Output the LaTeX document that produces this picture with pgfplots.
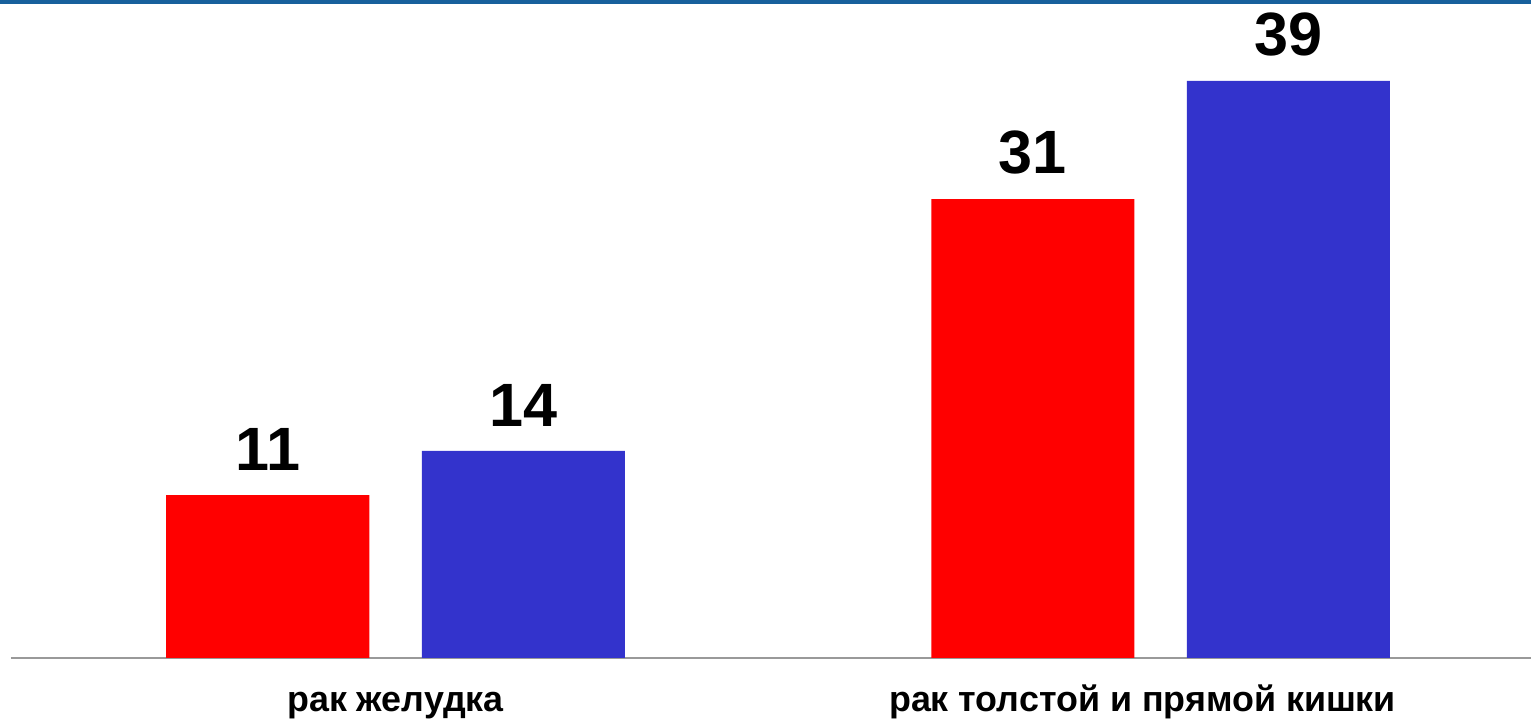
\documentclass[border=0pt]{standalone}
\usepackage{pgfplots}
\pgfplotsset{compat=1.18}
\usepackage{fontspec}
\setmainfont{Liberation Sans}

\definecolor{barred}{RGB}{255,0,0}
\definecolor{barblue}{RGB}{51,51,204}
\definecolor{topline}{RGB}{24,96,156}

\begin{document}
\begin{tikzpicture}
\useasboundingbox (0,0) rectangle (153.1mm,72mm);
\begin{axis}[
    at={(1.1mm,6.2mm)}, anchor=south west,
    scale only axis,
    width=152mm, height=65.8mm,
    xmin=-0.5026, xmax=1.4843,
    ymin=0, ymax=44.46,
    ybar, bar width=20.3mm,
    axis x line=bottom, axis y line=none,
    axis line style={-, draw=gray!80},
    xtick={0,0.9765},
    xticklabels={рак желудка, рак толстой и прямой кишки},
    major tick length=0pt,
    xticklabel style={anchor=base, yshift=-5.4mm, font=\fontsize{10.2}{12}\selectfont\bfseries},
    nodes near coords,
    nodes near coords style={anchor=south, inner sep=0pt, yshift=2.4mm,
        font=\fontsize{17.4}{20}\selectfont\bfseries, text=black},
    /pgf/number format/assume math mode=true,
    clip=false,
]
\addplot[fill=barred, draw=none, bar shift=-12.775mm] coordinates {(0,11) (1,31)};
\addplot[fill=barblue, draw=none, bar shift=12.775mm] coordinates {(0,14) (1,39)};
\end{axis}
\fill[topline] (0,72mm) rectangle (153.1mm,71.6mm);
\end{tikzpicture}
\end{document}
